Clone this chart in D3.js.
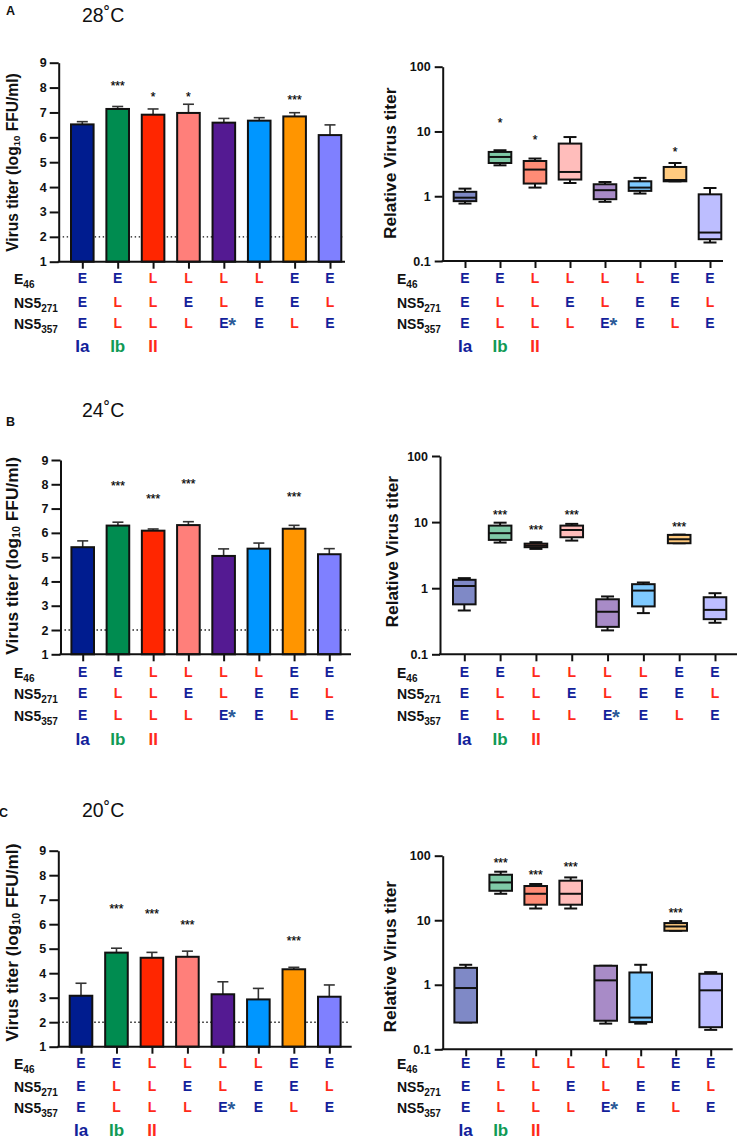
<!DOCTYPE html>
<html><head><meta charset="utf-8">
<script src="https://cdn.jsdelivr.net/npm/d3@7"></script>
<style>
body{margin:0;background:#fff}
svg{display:block}
text{font-family:"Liberation Sans",Arial,Helvetica,sans-serif}
</style>
</head><body>
<svg id="chart" width="741" height="1142"></svg>
<script>
// ---------------- DATA ----------------
const categories = ["EEE","ELL","LLL","LEL","LLE*","LEE","EEL","ELE"];
const rowE46    = ["E","E","L","L","L","L","E","E"];
const rowNS5271 = ["E","L","L","E","L","E","E","L"];
const rowNS5357 = ["E","L","L","L","E*","E","L","E"];
const groupLabels = ["Ia","Ib","II"];
const temperatures = ["28˚C","24˚C","20˚C"];
const panelLetters = ["A","B","C"];
const titerTicks = [1,2,3,4,5,6,7,8,9];
const relTicks = [0.1,1,10,100];
const detectionLimit = 2;

// virus titer (log10 FFU/ml): mean and SD
const titer28 = [6.52, 7.14, 6.91, 6.98, 6.59, 6.67, 6.84, 6.09];
const sd28    = [0.11, 0.10, 0.23, 0.35, 0.17, 0.12, 0.15, 0.41];
const sig28   = ["", "***", "*", "*", "", "", "***", ""];
const sigAt28 = [null, 8.2, 7.75, 7.75, null, null, 7.62, null];

const titer24 = [5.41, 6.30, 6.09, 6.32, 5.05, 5.35, 6.17, 5.12];
const sd24    = [0.26, 0.14, 0.07, 0.14, 0.29, 0.23, 0.14, 0.23];
const sig24   = ["", "***", "***", "***", "", "", "***", ""];
const sigAt24 = [null, 8.05, 7.52, 8.15, null, null, 7.6, null];

const titer20 = [3.08, 4.84, 4.63, 4.67, 3.14, 2.93, 4.16, 3.04];
const sd20    = [0.51, 0.18, 0.22, 0.23, 0.51, 0.45, 0.08, 0.48];
const sig20   = ["", "***", "***", "***", "", "", "***", ""];
const sigAt20 = [null, 6.76, 6.54, 6.08, null, null, 5.43, null];

// relative virus titer boxplots: min, q1, median, q3, max
const relMin28 = [0.77, 3.0, 1.36, 1.6, 0.82, 1.10, 1.70, 0.193];
const relQ1_28 = [0.84, 3.26, 1.57, 1.81, 0.90, 1.21, 1.70, 0.217];
const relMed28 = [0.95, 4.04, 2.58, 2.37, 1.24, 1.36, 1.78, 0.275];
const relQ3_28 = [1.17, 4.83, 3.5, 6.5, 1.53, 1.70, 2.83, 1.07];
const relMax28 = [1.31, 5.13, 3.82, 8.2, 1.66, 1.92, 3.26, 1.34];
const relSig28 = ["", "*", "*", "", "", "", "*", ""];
const relSigAt28 = [null, 14.9, 8.2, null, null, null, 5.45, null];

const relMin24 = [0.46, 4.9, 3.93, 5.25, 0.23, 0.42, 4.79, 0.30];
const relQ1_24 = [0.57, 5.38, 4.17, 5.9, 0.26, 0.53, 4.79, 0.34];
const relMed24 = [1.08, 6.8, 4.41, 7.6, 0.44, 0.92, 5.5, 0.47];
const relQ3_24 = [1.34, 8.85, 4.72, 8.85, 0.68, 1.15, 6.4, 0.73];
const relMax24 = [1.42, 9.8, 4.97, 9.4, 0.75, 1.22, 6.47, 0.84];
const relSig24 = ["", "***", "***", "***", "", "", "***", ""];
const relSigAt24 = [null, 14.4, 8.55, 14.4, null, null, 9.4, null];

const relMin20 = [0.26, 25.7, 15.2, 15.2, 0.25, 0.25, 6.87, 0.20];
const relQ1_20 = [0.26, 28.6, 17.4, 17.4, 0.277, 0.264, 6.87, 0.22];
const relMed20 = [0.89, 38.5, 25.7, 25.7, 1.17, 0.31, 8.0, 0.82];
const relQ3_20 = [1.83, 50.7, 33.9, 41, 1.97, 1.55, 9.04, 1.48];
const relMax20 = [2.04, 56.5, 36.4, 46.1, 1.97, 2.04, 9.7, 1.57];
const relSig20 = ["", "***", "***", "***", "", "", "***", ""];
const relSigAt20 = [null, 86.7, 56.5, 75.2, null, null, 14.5, null];

// ---------------- STYLE ----------------
const barColors = ["#001c8f","#008c50","#ff2600","#ff7f7a","#541a92","#0096ff","#ff9500","#7f80ff"];
const boxColors = ["#7f89c6","#7fc9a6","#ff8c76","#ffbdbb","#a88bc7","#7fcaff","#ffca7f","#bdbeff"];
const colE = "#12219a", colL = "#ff2a1a", colGroup = ["#12219a","#109a55","#ff2a1a"];
const FONT = '"Liberation Sans",Arial,Helvetica,sans-serif';

const layout = [
  {titleY:21.7, letterX:6, letterY:15,
   left:{ax:58.7, y9:62.7, y1:261.7, c0:82.3, c1:330, xEnd:345, titleX:12, titleY:162.5, titleSize:15.6},
   right:{ax:442.7, y100:66.7, y01:261, c0:465, c1:710, xEnd:723, titleX:390, titleY:163.3},
   rows:[278.3,301.7,323.3], grp:346.3},
  {titleY:416.7, letterX:6, letterY:426,
   left:{ax:60.5, y9:460, y1:654.3, c0:82.7, c1:329.3, xEnd:351, titleX:12, titleY:555.8, titleSize:17.3},
   right:{ax:440, y100:456, y01:654.3, c0:464.3, c1:715, xEnd:737, titleX:391.5, titleY:551.7},
   rows:[671.7,693.3,715], grp:739.3},
  {titleY:817.3, letterX:-1, letterY:817.3,
   left:{ax:58.3, y9:850.7, y1:1046.7, c0:81, c1:329.3, xEnd:351.7, titleX:12, titleY:942.5, titleSize:17.3},
   right:{ax:442.7, y100:855.7, y01:1049.3, c0:465.7, c1:710.7, xEnd:732.7, titleX:390, titleY:956.7},
   rows:[1063.3,1085.7,1107.3], grp:1130}
];

const barData = [
  {mean:titer28, sd:sd28, sig:sig28, sigAt:sigAt28},
  {mean:titer24, sd:sd24, sig:sig24, sigAt:sigAt24},
  {mean:titer20, sd:sd20, sig:sig20, sigAt:sigAt20}
];
const boxData = [
  {min:relMin28, q1:relQ1_28, med:relMed28, q3:relQ3_28, max:relMax28, sig:relSig28, sigAt:relSigAt28},
  {min:relMin24, q1:relQ1_24, med:relMed24, q3:relQ3_24, max:relMax24, sig:relSig24, sigAt:relSigAt24},
  {min:relMin20, q1:relQ1_20, med:relMed20, q3:relQ3_20, max:relMax20, sig:relSig20, sigAt:relSigAt20}
];

const svg = d3.select("#chart");
const BW = 22.6, CAP = 11, BOXCAP = 13;

function styleAxis(g){
  g.selectAll(".domain").attr("stroke","#111").attr("stroke-width",2);
  g.selectAll(".tick line").attr("stroke","#111").attr("stroke-width",2);
  g.selectAll(".tick text").attr("font-family",FONT).attr("font-weight","bold")
    .attr("font-size","12.5px").attr("fill","#111");
}

function sigText(x, yCenter, s){
  svg.append("text").attr("x",x).attr("y",yCenter+7)
    .attr("text-anchor","middle").attr("font-family",FONT).attr("font-size","12px")
    .attr("fill","#000").attr("stroke","#000").attr("stroke-width",0.2).text(s);
}

function drawRows(x, L, labelX){
  const rows = [rowE46,rowNS5271,rowNS5357];
  const names = [["E","46"],["NS5","271"],["NS5","357"]];
  rows.forEach((row,ri)=>{
    const by = L.rows[ri] + 5;
    const t = svg.append("text").attr("x",labelX).attr("y",by+1)
      .attr("font-family",FONT).attr("font-weight","bold").attr("font-size","14px").attr("fill","#111");
    t.append("tspan").text(names[ri][0]);
    t.append("tspan").attr("font-size","10px").attr("dy",4).text(names[ri][1]);
    row.forEach((v,i)=>{
      const cx = x(categories[i]);
      const letter = v.replace("*","");
      svg.append("text").attr("x",cx).attr("y",by).attr("text-anchor","middle")
        .attr("font-family",FONT).attr("font-weight","bold").attr("font-size","14px")
        .attr("fill", letter==="E"?colE:colL).text(letter);
      if(v.includes("*")){
        svg.append("text").attr("x",cx+4.5).attr("y",by+4).attr("text-anchor","start")
          .attr("font-family",FONT).attr("font-weight","bold").attr("font-size","20px")
          .attr("fill","#2a5a98").text("*");
      }
    });
  });
  groupLabels.forEach((g,i)=>{
    svg.append("text").attr("x",x(categories[i])).attr("y",L.grp+6).attr("text-anchor","middle")
      .attr("font-family",FONT).attr("font-weight","bold").attr("font-size","17px")
      .attr("fill",colGroup[i]).text(g);
  });
}

function drawBarPanel(p, L, D){
  const y = d3.scaleLinear().domain([1,9]).range([p.y1,p.y9]);
  const x = d3.scalePoint().domain(categories).range([p.c0,p.c1]);
  svg.append("line").attr("x1",p.ax).attr("x2",p.xEnd-2)
    .attr("y1",y(detectionLimit)).attr("y2",y(detectionLimit))
    .attr("stroke","#111").attr("stroke-width",1.4).attr("stroke-dasharray","1.4 2.6");
  categories.forEach((c,i)=>{
    const top = y(D.mean[i]+D.sd[i]);
    svg.append("line").attr("x1",x(c)).attr("x2",x(c)).attr("y1",y(D.mean[i])).attr("y2",top)
      .attr("stroke","#333").attr("stroke-width",1.6);
    svg.append("line").attr("x1",x(c)-CAP/2).attr("x2",x(c)+CAP/2).attr("y1",top).attr("y2",top)
      .attr("stroke","#333").attr("stroke-width",1.6);
  });
  svg.append("g").selectAll("rect").data(categories).join("rect")
    .attr("x",c=>x(c)-BW/2).attr("width",BW)
    .attr("y",(c,i)=>y(D.mean[i])).attr("height",(c,i)=>y(1)-y(D.mean[i]))
    .attr("fill",(c,i)=>barColors[i]).attr("stroke","#111").attr("stroke-width",2);
  categories.forEach((c,i)=>{ if(D.sig[i]) sigText(x(c), y(D.sigAt[i]), D.sig[i]); });
  const ga = svg.append("g").attr("transform",`translate(${p.ax},0)`)
    .call(d3.axisLeft(y).tickValues(titerTicks).tickFormat(d3.format("d")).tickSize(9).tickSizeOuter(0).tickPadding(3));
  styleAxis(ga);
  svg.append("line").attr("x1",p.ax-1).attr("x2",p.xEnd).attr("y1",p.y1).attr("y2",p.y1)
    .attr("stroke","#111").attr("stroke-width",2);
  const gx = svg.append("g").attr("transform",`translate(0,${p.y1})`)
    .call(d3.axisBottom(x).tickSize(7).tickFormat(""));
  gx.select(".domain").remove();
  styleAxis(gx);
  const t = svg.append("text").attr("transform",`translate(${p.titleX},${p.titleY}) rotate(-90)`)
    .attr("text-anchor","middle").attr("dominant-baseline","central")
    .attr("font-family",FONT).attr("font-weight","bold").attr("font-size",p.titleSize+"px").attr("fill","#111");
  t.append("tspan").text("Virus titer (log");
  t.append("tspan").attr("font-size",(p.titleSize*0.62)+"px").attr("dy",4).text("10");
  t.append("tspan").attr("dy",-4).text(" FFU/ml)");
  drawRows(x, L, 14);
}

function drawBoxPanel(p, L, D){
  const y = d3.scaleLog().domain([0.1,100]).range([p.y01,p.y100]);
  const x = d3.scalePoint().domain(categories).range([p.c0,p.c1]);
  categories.forEach((c,i)=>{
    const cx = x(c);
    svg.append("line").attr("x1",cx).attr("x2",cx).attr("y1",y(D.min[i])).attr("y2",y(D.max[i]))
      .attr("stroke","#111").attr("stroke-width",2);
    [D.min[i],D.max[i]].forEach(v=>{
      svg.append("line").attr("x1",cx-BOXCAP/2).attr("x2",cx+BOXCAP/2).attr("y1",y(v)).attr("y2",y(v))
        .attr("stroke","#111").attr("stroke-width",2);
    });
    svg.append("rect").attr("x",cx-BW/2).attr("width",BW)
      .attr("y",y(D.q3[i])).attr("height",Math.max(0.5,y(D.q1[i])-y(D.q3[i])))
      .attr("fill",boxColors[i]).attr("stroke","#111").attr("stroke-width",2);
    svg.append("line").attr("x1",cx-BW/2).attr("x2",cx+BW/2).attr("y1",y(D.med[i])).attr("y2",y(D.med[i]))
      .attr("stroke","#111").attr("stroke-width",2);
    if(D.sig[i]) sigText(cx, y(D.sigAt[i]), D.sig[i]);
  });
  const ga = svg.append("g").attr("transform",`translate(${p.ax},0)`)
    .call(d3.axisLeft(y).tickValues(relTicks).tickFormat(d=>d<1?"0.1":String(d)).tickSize(8).tickSizeOuter(0).tickPadding(4));
  styleAxis(ga);
  svg.append("line").attr("x1",p.ax-1).attr("x2",p.xEnd).attr("y1",p.y01).attr("y2",p.y01)
    .attr("stroke","#111").attr("stroke-width",2);
  const gx = svg.append("g").attr("transform",`translate(0,${p.y01})`)
    .call(d3.axisBottom(x).tickSize(7).tickFormat(""));
  gx.select(".domain").remove();
  styleAxis(gx);
  svg.append("text").attr("transform",`translate(${p.titleX},${p.titleY}) rotate(-90)`)
    .attr("text-anchor","middle").attr("dominant-baseline","central")
    .attr("font-family",FONT).attr("font-weight","bold").attr("font-size","17.3px").attr("fill","#111")
    .text("Relative Virus titer");
  drawRows(x, L, 397);
}

layout.forEach((L,k)=>{
  svg.append("text").attr("x",L.letterX).attr("y",L.letterY)
    .attr("font-family",FONT).attr("font-weight","bold").attr("font-size","12.5px").attr("fill","#111")
    .text(panelLetters[k]);
  svg.append("text").attr("x",82).attr("y",L.titleY)
    .attr("font-family",FONT).attr("font-size","19.5px").attr("fill","#111")
    .text(temperatures[k]);
  drawBarPanel(L.left, L, barData[k]);
  drawBoxPanel(L.right, L, boxData[k]);
});
</script>
</body></html>
